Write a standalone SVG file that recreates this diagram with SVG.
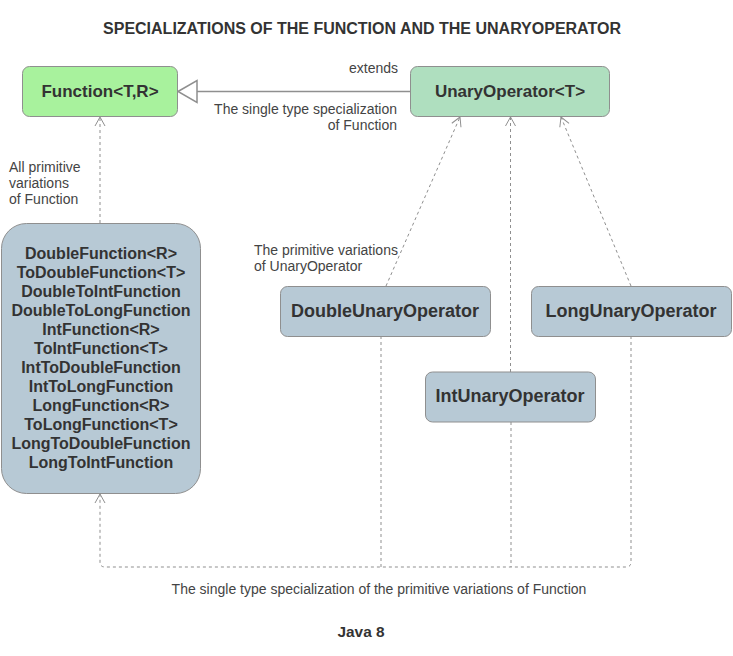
<svg xmlns="http://www.w3.org/2000/svg" width="733" height="656" viewBox="0 0 733 656">
<style>
text{font-family:"Liberation Sans",Arial,sans-serif;fill:#333}
.t{font-size:16px;font-weight:bold}
.lbl{font-size:14px;fill:#444}
.bx{stroke:#8f8f8f;stroke-width:1}
.nm{font-weight:bold;text-anchor:middle}
.dash{fill:none;stroke:#8f8f8f;stroke-width:1;stroke-dasharray:3 3}
</style>
<defs>
<marker id="open" viewBox="0 0 10 12" refX="10" refY="6" markerWidth="10" markerHeight="12" markerUnits="userSpaceOnUse" orient="auto">
<path d="M1,1 L10,6 L1,11" fill="none" stroke="#8f8f8f" stroke-width="1"/>
</marker>
</defs>
<rect width="733" height="656" fill="#fff"/>
<text class="t" x="362" y="34" text-anchor="middle">SPECIALIZATIONS OF THE FUNCTION AND THE UNARYOPERATOR</text>

<g id="connectors">
<line x1="197" y1="91.5" x2="410.5" y2="91.5" stroke="#8f8f8f" stroke-width="1.5"/>
<polygon points="178,91.5 197,80.5 197,102.5" fill="#fff" stroke="#8f8f8f" stroke-width="1.5"/>
<line class="dash" x1="100" y1="223" x2="100" y2="117" marker-end="url(#open)"/>
<line class="dash" x1="386" y1="286" x2="460" y2="117" marker-end="url(#open)"/>
<line class="dash" x1="510.5" y1="372" x2="510.5" y2="117" marker-end="url(#open)"/>
<line class="dash" x1="631" y1="286" x2="561" y2="117" marker-end="url(#open)"/>
<path class="dash" d="M631,336 V562 Q631,567 626,567 H105 Q100,567 100,562 V494" marker-end="url(#open)"/>
<line class="dash" x1="381" y1="336" x2="381" y2="567"/>
<line class="dash" x1="511" y1="422" x2="511" y2="567"/>
</g>

<g id="function">
<rect class="bx" x="22.5" y="66.5" width="155" height="50" rx="7" fill="#a8f29d"/>
<text class="nm" x="100" y="97" font-size="17px">Function&lt;T,R&gt;</text>
</g>
<g id="unaryoperator">
<rect class="bx" x="410.5" y="66.5" width="199" height="50" rx="7" fill="#afdfbf"/>
<text class="nm" x="510" y="97" font-size="17px">UnaryOperator&lt;T&gt;</text>
</g>
<g id="primitive-functions">
<rect class="bx" x="1.5" y="223.5" width="199" height="270" rx="25" fill="#b7c9d5"/>
<g class="nm" font-size="16px">
<text class="nm" x="101" y="259">DoubleFunction&lt;R&gt;</text>
<text class="nm" x="101" y="278">ToDoubleFunction&lt;T&gt;</text>
<text class="nm" x="101" y="297">DoubleToIntFunction</text>
<text class="nm" x="101" y="316">DoubleToLongFunction</text>
<text class="nm" x="101" y="335">IntFunction&lt;R&gt;</text>
<text class="nm" x="101" y="354">ToIntFunction&lt;T&gt;</text>
<text class="nm" x="101" y="373">IntToDoubleFunction</text>
<text class="nm" x="101" y="392">IntToLongFunction</text>
<text class="nm" x="101" y="411">LongFunction&lt;R&gt;</text>
<text class="nm" x="101" y="430">ToLongFunction&lt;T&gt;</text>
<text class="nm" x="101" y="449">LongToDoubleFunction</text>
<text class="nm" x="101" y="468">LongToIntFunction</text>
</g>
</g>
<g id="doubleunary">
<rect class="bx" x="280.5" y="286.5" width="210" height="50" rx="7" fill="#b7c9d5"/>
<text class="nm" x="385" y="317" font-size="18px">DoubleUnaryOperator</text>
</g>
<g id="longunary">
<rect class="bx" x="531.5" y="286.5" width="200" height="50" rx="7" fill="#b7c9d5"/>
<text class="nm" x="631" y="317" font-size="18px">LongUnaryOperator</text>
</g>
<g id="intunary">
<rect class="bx" x="425.5" y="372" width="170" height="50" rx="7" fill="#b7c9d5"/>
<text class="nm" x="510" y="402" font-size="18px">IntUnaryOperator</text>
</g>

<g id="labels">
<text class="lbl" x="398" y="73" text-anchor="end">extends</text>
<text class="lbl" x="397" y="114" text-anchor="end">The single type specialization</text>
<text class="lbl" x="397" y="130" text-anchor="end">of Function</text>
<text class="lbl" x="9" y="172">All primitive</text>
<text class="lbl" x="9" y="188">variations</text>
<text class="lbl" x="9" y="204">of Function</text>
<text class="lbl" x="254" y="255">The primitive variations</text>
<text class="lbl" x="254" y="271">of UnaryOperator</text>
<text class="lbl" x="379" y="594" text-anchor="middle">The single type specialization of the primitive variations of Function</text>
<text class="nm" x="361" y="637" font-size="15.4px">Java 8</text>
</g>
</svg>
